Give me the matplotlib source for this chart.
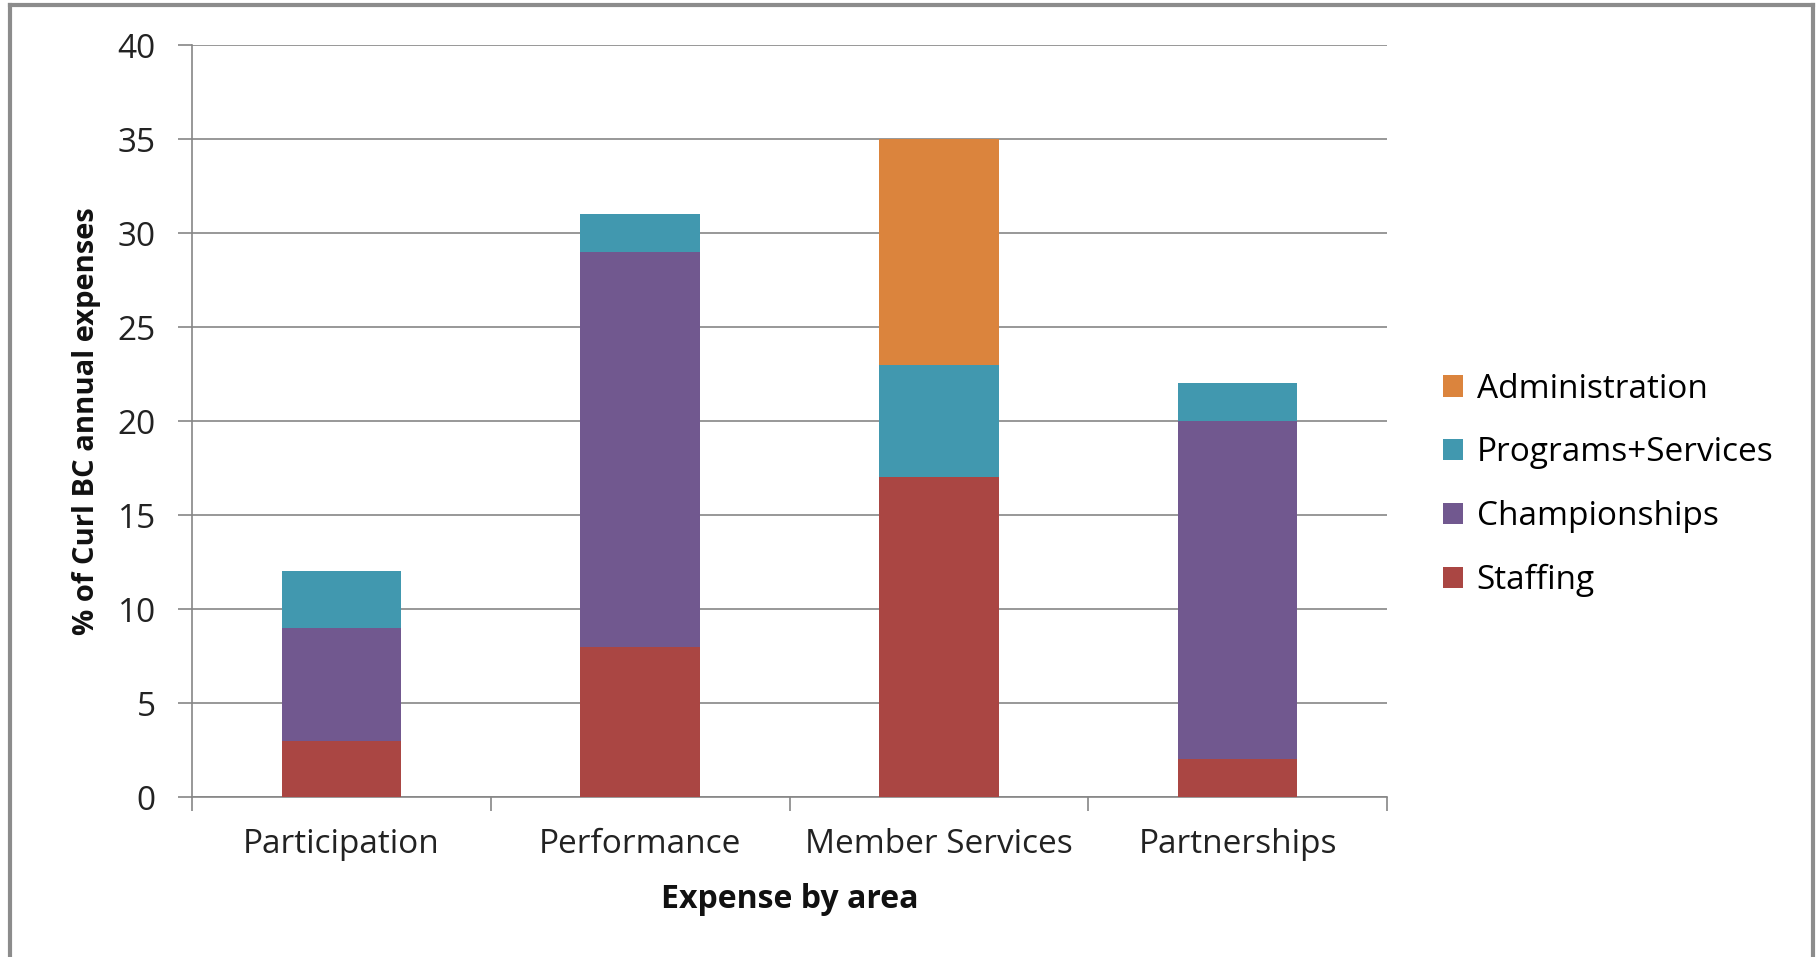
import matplotlib
matplotlib.use("Agg")
import matplotlib.pyplot as plt
from matplotlib.patches import Patch
from matplotlib.lines import Line2D
import numpy as np

plt.rcParams['font.family'] = ['Open Sans', 'DejaVu Sans']

areas = ["Participation", "Performance", "Member Services", "Partnerships"]
staffing = [3, 8, 17, 2]
championships = [6, 21, 0, 18]
programs = [3, 2, 6, 2]
administration = [0, 0, 12, 0]

series = [
    ("Staffing", staffing, "#AA4643"),
    ("Championships", championships, "#71588F"),
    ("Programs+Services", programs, "#4198AF"),
    ("Administration", administration, "#DB843D"),
]

fig = plt.figure(figsize=(18.2, 9.57), dpi=100)
ax = fig.add_axes([192 / 1820, 1 - 797 / 957, (1387 - 192) / 1820, (797 - 45) / 957])

x = np.arange(len(areas))
bottom = np.zeros(len(areas))
handles = []
for name, vals, col in series:
    ax.bar(x, vals, width=0.4, bottom=bottom, color=col, zorder=3)
    bottom += np.array(vals)
    handles.append(Patch(facecolor=col, label=name))

grid_col = "#868686"
ax.set_xlim(-0.5, 3.5)
ax.set_ylim(0, 40)
ax.set_yticks(range(0, 41, 5))
ax.yaxis.grid(True, color=grid_col, linewidth=1.2, zorder=0)
ax.set_xticks(x)
ax.set_xticklabels(areas)
ax.set_xticks(np.arange(-0.5, 4.0, 1.0), minor=True)
ax.tick_params(axis='x', which='major', length=0, pad=22, labelsize=24, colors="#222222")
ax.tick_params(axis='x', which='minor', length=10, width=1.2, color=grid_col)
ax.tick_params(axis='y', length=10, width=1.2, color=grid_col, pad=16, labelsize=24, labelcolor="#222222")

for side in ["top", "right"]:
    ax.spines[side].set_visible(False)
for side in ["left", "bottom"]:
    ax.spines[side].set_color(grid_col)
    ax.spines[side].set_linewidth(1.2)

ax.set_xlabel("Expense by area", fontsize=23, fontweight="bold", labelpad=16, color="#111111")
ax.set_ylabel("% of Curl BC annual expenses", fontsize=21, fontweight="bold", labelpad=12, color="#111111")

ax.legend(handles=handles[::-1], loc="center left", bbox_to_anchor=(1.022, 0.415),
          frameon=False, fontsize=24, handlelength=0.6, handleheight=0.6,
          labelspacing=0.92, handletextpad=0.4)

# outer chart frame
frame_col = "#8C8C8C"
for xs, ys in [([10, 10], [957, 5]), ([10, 1813], [5, 5]), ([1813, 1813], [5, 957])]:
    fig.add_artist(Line2D([v / 1820 for v in xs], [1 - v / 957 for v in ys],
                          color=frame_col, linewidth=3))

fig.savefig("out.png", dpi=100)
